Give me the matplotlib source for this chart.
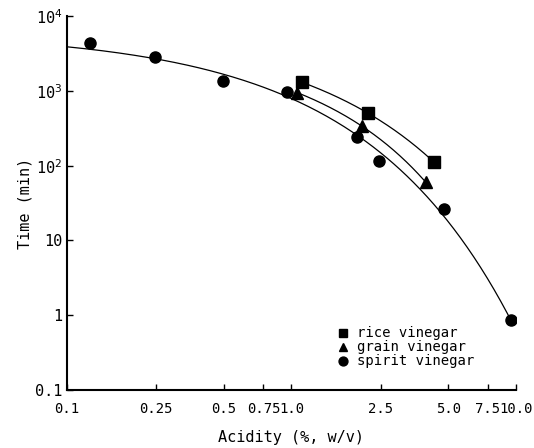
import matplotlib
matplotlib.use('Agg')
import matplotlib.pyplot as plt
import numpy as np

plt.rcParams['font.family'] = ['DejaVu Sans Mono']

# values
rice_x = [1.11, 2.19, 4.31]
rice_y = [1310, 505, 112]

grain_x = [1.06, 2.06, 3.97]
grain_y = [950, 338, 60]

spirit_x = [0.127, 0.247, 0.495, 0.955, 1.95, 2.45, 4.78, 9.5]
spirit_y = [4350, 2830, 1350, 964, 241, 115, 26, 0.86]

x_ticks = [0.1, 0.25, 0.5, 0.75, 1.0, 2.5, 5.0, 7.5, 10.0]
x_labels = ['0.1', '0.25', '0.5', '0.75', '1.0', '2.5', '5.0', '7.5', '10.0']
y_ticks = [0.1, 1, 10, 100, 1000, 10000]
y_labels = ['0.1', '1', '10', r'10$^2$', r'10$^3$', r'10$^4$']

P = 0.65  # log(time) taken as a polynomial in acidity**P


def fit_curve(xs, ys, x0, x1, deg):
    c = np.polyfit(np.asarray(xs) ** P, np.log10(ys), deg)
    xx = np.geomspace(x0, x1, 200)
    return xx, 10 ** np.polyval(c, xx ** P)


fig = plt.figure(figsize=(5.34, 4.48), dpi=100)
ax = fig.add_axes([0.1255, 0.1295, 0.8405, 0.8345])

xx, yy = fit_curve(spirit_x, spirit_y, 0.1, 9.6, 1)
ax.plot(xx, yy, color='black', lw=0.9)
xx, yy = fit_curve(grain_x, grain_y, 1.06, 3.97, 2)
ax.plot(xx, yy, color='black', lw=0.9)
xx, yy = fit_curve(rice_x, rice_y, 1.11, 4.31, 2)
ax.plot(xx, yy, color='black', lw=0.9)

ax.plot(rice_x, rice_y, 's', color='black', ms=8, label='rice vinegar')
ax.plot(grain_x, grain_y, '^', color='black', ms=8, label='grain vinegar')
ax.plot(spirit_x, spirit_y, 'o', color='black', ms=8, label='spirit vinegar')

ax.set_xscale('log')
ax.set_yscale('log')
ax.set_xlim(0.1, 10.0)
ax.set_ylim(0.1, 10000)
ax.set_xticks(x_ticks)
ax.set_xticklabels(x_labels, fontsize=10)
ax.set_yticks(y_ticks)
ax.set_yticklabels(y_labels, fontsize=11)
ax.minorticks_off()
ax.tick_params(direction='in', length=4, width=1)
ax.tick_params(axis='x', pad=9)
ax.spines['top'].set_visible(False)
ax.spines['right'].set_visible(False)
ax.spines['left'].set_linewidth(1.5)
ax.spines['bottom'].set_linewidth(1.5)

ax.set_xlabel('Acidity (%, w/v)', fontsize=11, labelpad=10)
ax.set_ylabel('Time (min)', fontsize=11, labelpad=2)

ax.legend(loc='upper left', bbox_to_anchor=(0.602, 0.170), frameon=False,
          fontsize=10, handlelength=0.8, handletextpad=0.6,
          labelspacing=0.0, markerscale=0.8, borderpad=0, borderaxespad=0)

fig.savefig('out.png', dpi=100)
